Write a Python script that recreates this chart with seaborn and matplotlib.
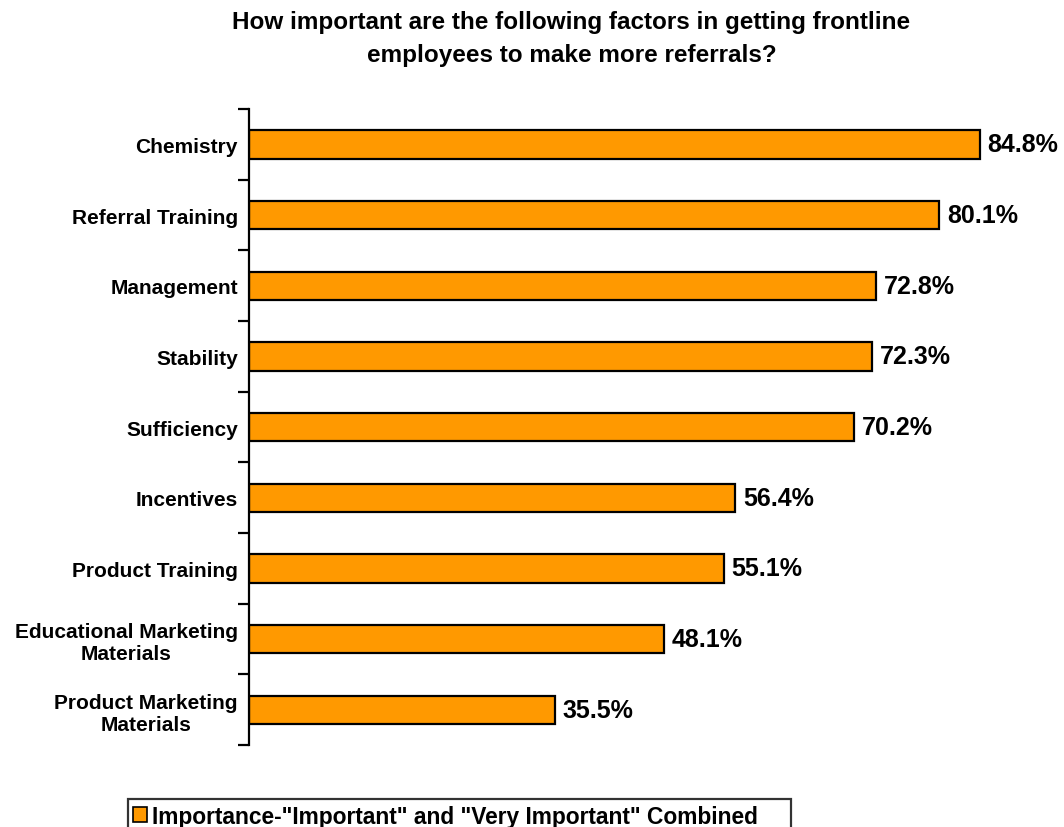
import matplotlib
matplotlib.use("Agg")
import matplotlib.pyplot as plt
import seaborn as sns
import pandas as pd
import numpy as np
from matplotlib.patches import Patch

categories = ["Chemistry", "Referral Training", "Management", "Stability", "Sufficiency",
              "Incentives", "Product Training", "Educational Marketing\nMaterials",
              "Product Marketing\nMaterials"]
values = [84.8, 80.1, 72.8, 72.3, 70.2, 56.4, 55.1, 48.1, 35.5]
series_name = 'Importance-"Important" and "Very Important" Combined'
title = "How important are the following factors in getting frontline\nemployees to make more referrals?"

sns.set_style("white")
plt.rcParams["font.family"] = ["Liberation Sans", "DejaVu Sans"]
plt.rcParams["text.color"] = "black"
plt.rcParams["ytick.color"] = "black"

df = pd.DataFrame({"category": categories, "value": values})

fig = plt.figure(figsize=(10.64, 8.28), dpi=100)
ax = fig.add_axes([0.234, 0.099, 0.729, 0.768])

sns.barplot(data=df, x="value", y="category", orient="h", color="#FF9900",
            saturation=1, width=0.4, edgecolor="black", linewidth=1.6, ax=ax)

ax.set_xlim(0, 90)
ax.set_ylim(len(categories) - 0.5, -0.5)
ax.set_xlabel("")
ax.set_ylabel("")
ax.set_xticks([])

for s in ["top", "right", "bottom"]:
    ax.spines[s].set_visible(False)
ax.spines["left"].set_linewidth(1.6)
ax.spines["left"].set_color("black")

ax.tick_params(axis="y", which="major", left=False, length=0, pad=8,
               labelcolor="black", labelsize=15)
ax.set_yticks(np.arange(-0.5, len(categories), 1.0), minor=True)
ax.tick_params(axis="y", which="minor", left=True, length=8, width=1.6,
               direction="out", color="black")
for lbl in ax.get_yticklabels():
    lbl.set_fontweight("bold")
    lbl.set_horizontalalignment("right")
    lbl.set_multialignment("center")

for i, v in enumerate(values):
    ax.text(v + 0.9, i, f"{v:.1f}%", va="center", ha="left",
            fontsize=18, fontweight="bold", color="black")

fig.text(0.537, 0.987, title, ha="center", va="top", fontsize=17.5, fontweight="bold",
         linespacing=1.55, color="black")

handle = Patch(facecolor="#FF9900", edgecolor="black", linewidth=1.2)
leg = fig.legend([handle], [series_name], loc="upper left",
                 bbox_to_anchor=(0.120, -0.02, 0.623, 0.054), mode="expand",
                 frameon=True, fancybox=False, prop={"weight": "bold", "size": 16.4},
                 handlelength=0.6, handleheight=0.6, handletextpad=0.2,
                 borderpad=0.25, borderaxespad=0)
leg.get_frame().set_edgecolor("black")
leg.get_frame().set_linewidth(1.6)
for t in leg.get_texts():
    t.set_color("black")

fig.savefig("out.png", dpi=100)
